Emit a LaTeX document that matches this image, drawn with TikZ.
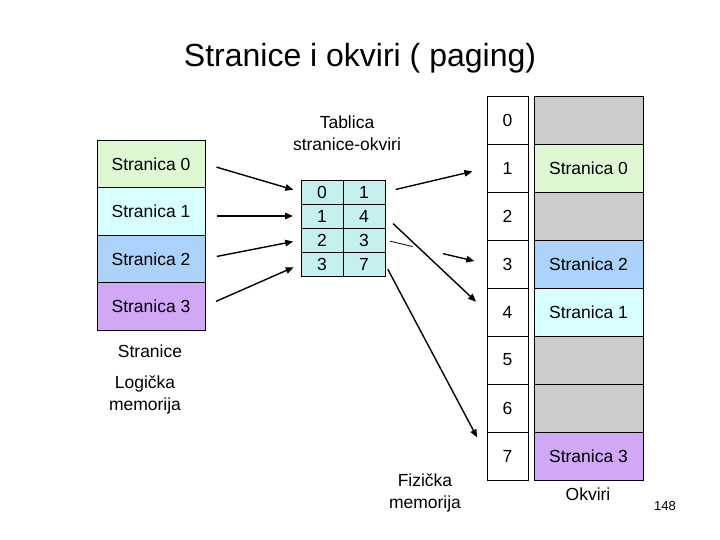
\documentclass[tikz,border=0pt]{standalone}
\usepackage{fontspec}
\setmainfont{Liberation Sans}
\usepackage{xcolor}
\usetikzlibrary{positioning,arrows.meta,calc}
\definecolor{pgGreen}{RGB}{222,248,212}
\definecolor{pgCyan}{RGB}{215,255,255}
\definecolor{pgBlue}{RGB}{170,210,250}
\definecolor{pgPurple}{RGB}{208,168,245}
\definecolor{pgTable}{RGB}{196,240,240}
\definecolor{pgGray}{RGB}{204,204,204}

\begin{document}
\begin{tikzpicture}[x=1pt, y=-1pt,
      font=\fontsize{17.5}{22}\selectfont,
      node distance=0pt,
      page/.style={draw, line width=0.8pt, minimum width=108pt, minimum height=47.5pt, inner sep=0pt, outer sep=0pt},
      cell/.style={draw, line width=0.8pt, fill=pgTable, minimum width=42pt, minimum height=24pt, inner sep=0pt, outer sep=0pt},
      fnum/.style={draw, line width=0.8pt, minimum width=41pt, minimum height=48pt, inner sep=0pt, outer sep=0pt},
      frame/.style={draw, line width=0.8pt, fill=pgGray, minimum width=109pt, minimum height=48pt, inner sep=0pt, outer sep=0pt},
      lbl/.style={align=center, inner sep=0pt},
      arr/.style={-{Triangle[length=8pt, width=6.5pt]}, line width=1.4pt},
      arrL/.style={arr, shorten <=12pt, shorten >=8pt},
      arrR/.style={arr, shorten <=11pt, shorten >=15pt}]
    \useasboundingbox (0,0) rectangle (720,540);
    \node[font=\fontsize{32}{38}\selectfont] (title) at (360,58) {Stranice i okviri ( paging)};
    % logicka memorija
    \node[page, fill=pgGreen, anchor=north west] (p0) at (97,140) {Stranica 0};
    \node[page, fill=pgCyan, below=of p0] (p1) {Stranica 1};
    \node[page, fill=pgBlue, below=of p1] (p2) {Stranica 2};
    \node[page, fill=pgPurple, below=of p2] (p3) {Stranica 3};
    \node[lbl] (stranice) at (150,351) {Stranice};
    \node[lbl] (logicka) at (145,395) {Logička\\memorija};
    % tablica stranica
    \node[cell, anchor=north west] (t00) at (301,180) {0};
    \node[cell, right=of t00] (t01) {1};
    \node[cell, below=of t00] (t10) {1};
    \node[cell, right=of t10] (t11) {4};
    \node[cell, below=of t10] (t20) {2};
    \node[cell, right=of t20] (t21) {3};
    \node[cell, below=of t20] (t30) {3};
    \node[cell, right=of t30] (t31) {7};
    \node[lbl] (tablica) at (347,133) {Tablica\\stranice-okviri};
    % fizicka memorija
    \node[fnum, anchor=north west] (n0) at (487,96) {0};
    \node[fnum, below=of n0] (n1) {1};
    \node[fnum, below=of n1] (n2) {2};
    \node[fnum, below=of n2] (n3) {3};
    \node[fnum, below=of n3] (n4) {4};
    \node[fnum, below=of n4] (n5) {5};
    \node[fnum, below=of n5] (n6) {6};
    \node[fnum, below=of n6] (n7) {7};
    \node[frame, right=6pt of n0] (k0) {};
    \node[frame, fill=pgGreen, right=6pt of n1] (k1) {Stranica 0};
    \node[frame, right=6pt of n2] (k2) {};
    \node[frame, fill=pgBlue, right=6pt of n3] (k3) {Stranica 2};
    \node[frame, fill=pgCyan, right=6pt of n4] (k4) {Stranica 1};
    \node[frame, right=6pt of n5] (k5) {};
    \node[frame, right=6pt of n6] (k6) {};
    \node[frame, fill=pgPurple, right=6pt of n7] (k7) {Stranica 3};
    \node[lbl] (okviri) at (588,494) {Okviri};
    \node[lbl] (fizicka) at (425,493) {Fizička\\memorija};
    \node[lbl, font=\fontsize{13}{15}\selectfont] (slide) at (665,506) {148};
    % strelice
    \draw[arrL] (p0.east) -- (t00.west);
    \draw[arrL] (p1.east |- t10.west) -- (t10.west);
    \draw[arrL] (p2.east) -- (t20.west);
    \draw[arrL] (p3.east) -- (t30.west);
    \draw[arrR] (t01.east) -- (n1.west);
    \draw[arrR] (t11.east) -- (n4.west);
    \draw[line width=0.8pt, shorten <=5pt] (t21.east) -- ($(t21.east)!0.27!(n3.west)$);
    \draw[arr, shorten >=13pt] ($(t21.east)!0.57!(n3.west)$) -- (n3.west);
    \draw[arrR, shorten <=6pt, shorten >=21pt] (t31.east) -- (n7.west);
  \end{tikzpicture}
\end{document}
